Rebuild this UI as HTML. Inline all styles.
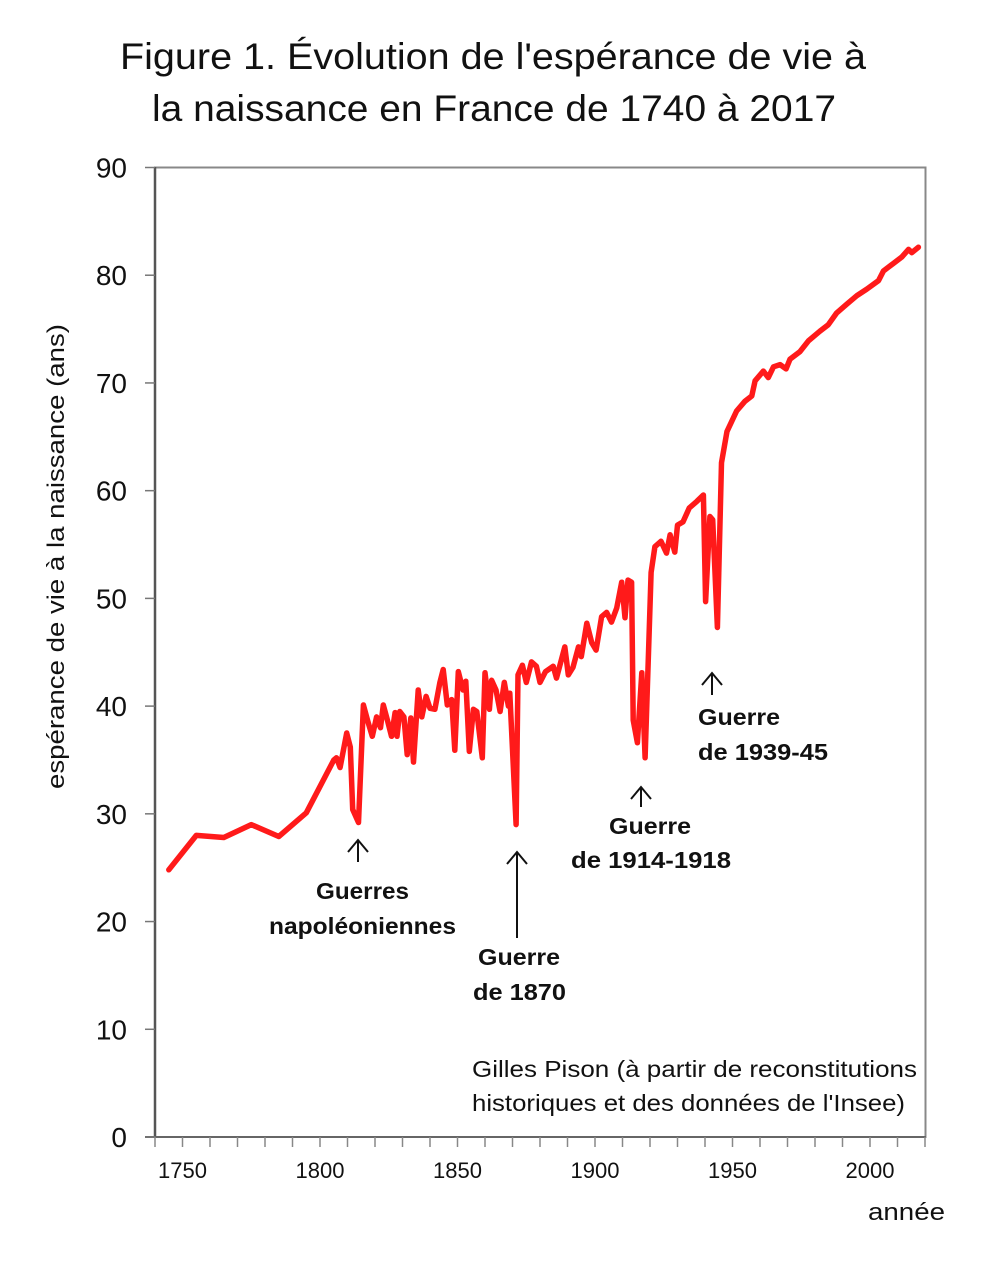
<!DOCTYPE html>
<html><head><meta charset="utf-8"><style>
body{margin:0;background:#fff;width:1000px;height:1263px;overflow:hidden}
svg{display:block}
text{font-family:"Liberation Sans",sans-serif}
</style></head><body>
<svg id="chart" width="1000" height="1263" viewBox="0 0 1000 1263">
<g font-size="37" fill="#111">
<text x="120" y="69" textLength="746" lengthAdjust="spacingAndGlyphs">Figure 1. Évolution de l'espérance de vie à</text>
<text x="152" y="121" textLength="684" lengthAdjust="spacingAndGlyphs">la naissance en France de 1740 à 2017</text>
</g>
<rect x="155" y="167.5" width="770.5" height="969.5" fill="none" stroke="#888" stroke-width="2"/>
<line x1="155" y1="167" x2="155" y2="1137" stroke="#555" stroke-width="2.5"/>
<line x1="145" y1="1137" x2="926" y2="1137" stroke="#666" stroke-width="2"/>
<g id="yticks"></g><g id="xticks"></g>
<text transform="translate(64,557) rotate(-90)" x="-232" font-size="24" fill="#111" textLength="465" lengthAdjust="spacingAndGlyphs">espérance de vie à la naissance (ans)</text>
<text x="868" y="1220" font-size="24" fill="#111" textLength="77" lengthAdjust="spacingAndGlyphs">année</text>
<polyline id="series" fill="none" stroke="#ff1a1a" stroke-width="5.5" stroke-linejoin="round" stroke-linecap="round"/>
<g font-size="23" font-weight="bold" fill="#111">
<text x="316" y="899" textLength="93" lengthAdjust="spacingAndGlyphs">Guerres</text><text x="269" y="934" textLength="187" lengthAdjust="spacingAndGlyphs">napoléoniennes</text>
<text x="478" y="965" textLength="82" lengthAdjust="spacingAndGlyphs">Guerre</text><text x="473" y="1000" textLength="93" lengthAdjust="spacingAndGlyphs">de 1870</text>
<text x="609" y="834" textLength="82" lengthAdjust="spacingAndGlyphs">Guerre</text><text x="571" y="868" textLength="160" lengthAdjust="spacingAndGlyphs">de 1914-1918</text>
<text x="698" y="725" textLength="82" lengthAdjust="spacingAndGlyphs">Guerre</text><text x="698" y="760" textLength="130" lengthAdjust="spacingAndGlyphs">de 1939-45</text>
</g>
<g stroke="#111" stroke-width="2" fill="none">
<path d="M358 862V840M348 852L358 840L368 852"/>
<path d="M517 938V852M507 864L517 852L527 864"/>
<path d="M641 807V787M631 799L641 787L651 799"/>
<path d="M712 695V673M702 685L712 673L722 685"/>
</g>
<g font-size="23" fill="#111">
<text x="472" y="1077" textLength="445" lengthAdjust="spacingAndGlyphs">Gilles Pison (à partir de reconstitutions</text>
<text x="472" y="1111" textLength="433" lengthAdjust="spacingAndGlyphs">historiques et des données de l'Insee)</text>
</g>
</svg>
<script>
const years=[1745,1755,1765,1775,1785,1795,1805,1806,1807.3,1809.7,1811,1811.9,1814,1815.8,1817.5,1819,1820.6,1822,1823,1824.5,1826,1827.3,1828,1829,1830.5,1831.7,1833,1834,1835.7,1837,1838.6,1840,1841.8,1843.6,1844.8,1846.3,1847.9,1849,1850.3,1852,1853,1854.3,1855.8,1857,1859,1860,1861.6,1862.4,1864,1865.5,1867,1868.5,1869,1871.3,1872,1873.6,1875,1876.9,1878.7,1880,1882,1884.8,1886,1889,1890.3,1892,1894,1895,1897,1898.8,1900.4,1902.4,1904.2,1906,1907.9,1909.7,1910.9,1912,1913.3,1913.9,1915.4,1917,1918.2,1920.4,1921.8,1924,1926,1927.3,1929,1930,1932,1934.3,1937,1939.4,1940.2,1941.8,1942.8,1944.5,1946,1948,1951.5,1954.5,1957,1958.2,1961.2,1963,1964.9,1967.3,1969.5,1970.9,1974.5,1977.6,1981.8,1984.8,1987.9,1991.5,1995.2,1998.8,2003.1,2004.9,2008.5,2011.6,2014,2015.2,2017.6];
const lifeExp=[24.8,28.0,27.8,29.0,27.9,30.1,35.0,35.2,34.3,37.5,36.2,30.4,29.2,40.1,38.5,37.2,39.0,38.0,40.1,38.7,37.2,39.4,37.2,39.5,39.0,35.5,38.9,34.8,41.5,39.0,40.9,39.8,39.7,42.2,43.4,40.1,40.6,35.9,43.2,41.5,42.3,35.8,39.7,39.5,35.2,43.1,39.7,42.4,41.5,39.5,42.2,40.0,41.2,29.0,42.9,43.8,42.2,44.1,43.7,42.2,43.2,43.7,42.6,45.5,42.9,43.6,45.5,44.6,47.7,45.9,45.2,48.3,48.7,47.8,49.1,51.5,48.2,51.7,51.5,38.7,36.6,43.1,35.2,52.4,54.8,55.3,54.2,55.9,54.3,56.8,57.1,58.4,59.0,59.6,49.7,57.6,57.3,47.3,62.6,65.5,67.4,68.3,68.8,70.2,71.1,70.5,71.5,71.7,71.3,72.2,72.9,73.9,74.8,75.4,76.5,77.3,78.1,78.7,79.5,80.4,81.1,81.7,82.4,82.1,82.6];
const yTickLabels=[0,10,20,30,40,50,60,70,80,90];
const xTickLabels=[1750,1800,1850,1900,1950,2000];
const xMin=1740,xMax=2020,yMin=0,yMax=90;
const X=v=>155+(v-xMin)/(xMax-xMin)*770;
const Y=v=>1137-(v-yMin)/(yMax-yMin)*969.5;
const NS='http://www.w3.org/2000/svg';
const yt=document.getElementById('yticks'),xt=document.getElementById('xticks');
yTickLabels.forEach(v=>{
 const l=document.createElementNS(NS,'line');
 
 
 l.setAttribute('x1',145);l.setAttribute('x2',155);l.setAttribute('y1',Y(v));l.setAttribute('y2',Y(v));
 l.setAttribute('stroke','#777');l.setAttribute('stroke-width','1.5');yt.appendChild(l);
 const t=document.createElementNS(NS,'text');
 
 
 t.setAttribute('x',127);t.setAttribute('y',Y(v)+10);t.setAttribute('text-anchor','end');
 t.setAttribute('font-size','28');t.setAttribute('fill','#111');t.textContent=v;yt.appendChild(t);
});
for(let yr=xMin;yr<=xMax;yr+=10){
 const l=document.createElementNS(NS,'line');
 
 
 l.setAttribute('x1',X(yr));l.setAttribute('x2',X(yr));l.setAttribute('y1',1137);l.setAttribute('y2',1147);
 l.setAttribute('stroke','#888');l.setAttribute('stroke-width','1.5');xt.appendChild(l);
}
xTickLabels.forEach(v=>{
 const t=document.createElementNS(NS,'text');
 
 
 t.setAttribute('x',X(v));t.setAttribute('y',1178);t.setAttribute('text-anchor','middle');
 t.setAttribute('font-size','22');t.setAttribute('fill','#111');t.textContent=v;xt.appendChild(t);
});
document.getElementById('series').setAttribute('points',years.map((yr,i)=>X(yr).toFixed(1)+','+Y(lifeExp[i]).toFixed(1)).join(' '));
</script>
</body></html>
